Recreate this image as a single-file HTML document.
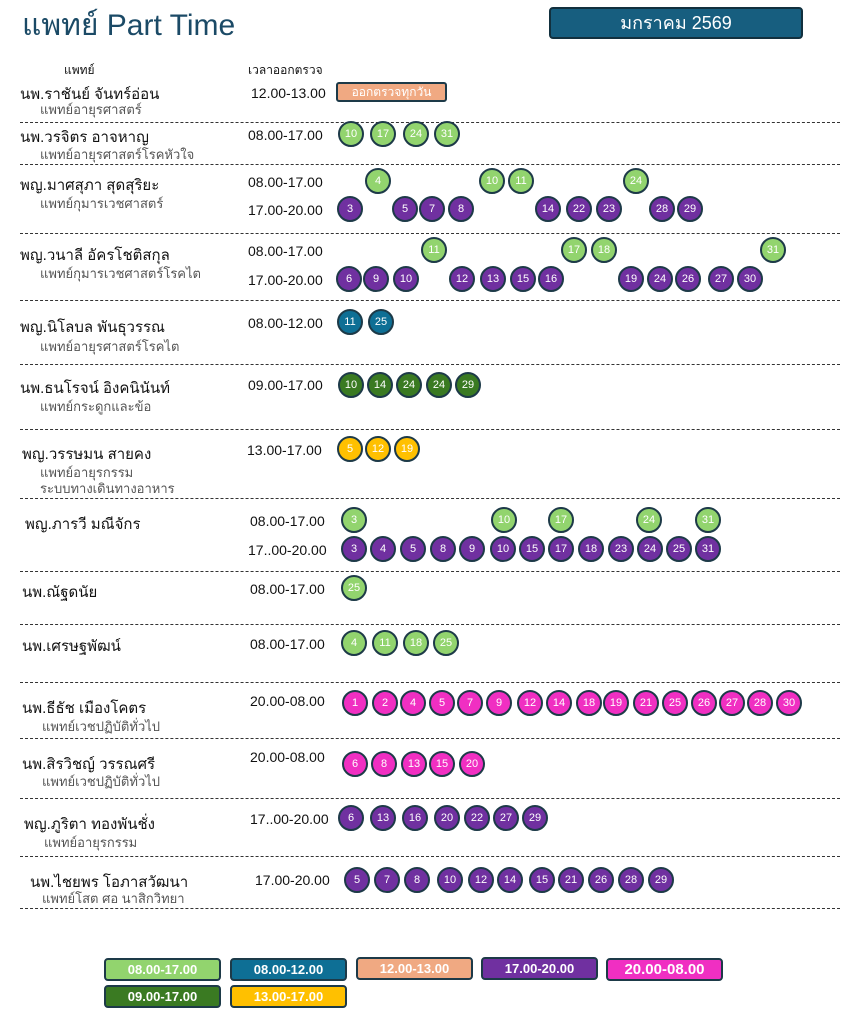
<!DOCTYPE html>
<html><head><meta charset="utf-8"><style>
*{margin:0;padding:0;box-sizing:border-box}
body{width:850px;height:1024px;background:#fff;position:relative;overflow:hidden;font-family:"Liberation Sans","DejaVu Sans",sans-serif;color:#111}
.a{position:absolute;white-space:nowrap}
.t{font-size:30px;color:#1b4a66;left:22px;top:2px}
.m{left:549px;top:7px;width:254px;height:32px;background:#175e7f;border:2px solid #12303e;border-radius:4px;color:#fff;font-size:18px;text-align:center;line-height:28px}
.h{font-size:12px}
.n{font-size:15px;color:#111}
.s{font-size:13px;color:#555}
.tm{font-size:14px;color:#111}
.d{position:absolute;left:20px;width:820px;border-top:1.5px dashed #333;height:0}
.c{position:absolute;width:26px;height:26px;border-radius:50%;border:2px solid #1d3a48;color:#fff;font-size:11px;text-align:center;line-height:22px}
.g{background:#92d46e}.b{background:#0e6f95}.p{background:#7030a0}.k{background:#f02fc2}.dg{background:#3a7a22}.y{background:#ffc000}
.l{position:absolute;width:117px;height:23px;border:2px solid #1d3a48;border-radius:4px;color:#fff;font-size:13px;font-weight:bold;text-align:center;line-height:19px}
</style></head><body>
<div class="a t">แพทย์ Part Time</div>
<div class="a m">มกราคม 2569</div>
<div class="a h" style="left:64px;top:61px">แพทย์</div>
<div class="a h" style="left:248px;top:61px">เวลาออกตรวจ</div>

<div class="a n" style="left:20px;top:82px">นพ.ราชันย์ จันทร์อ่อน</div>
<div class="a s" style="left:40px;top:99px">แพทย์อายุรศาสตร์</div>
<div class="a tm" style="left:251px;top:85px">12.00-13.00</div>
<div class="a" style="left:336px;top:82px;width:111px;height:20px;background:#f0a982;border:2px solid #1d3a48;border-radius:3px;color:#fff;font-size:12px;text-align:center;line-height:16px">ออกตรวจทุกวัน</div>
<div class="d" style="top:122px"></div>

<div class="a n" style="left:20px;top:125px">นพ.วรจิตร อาจหาญ</div>
<div class="a s" style="left:40px;top:144px">แพทย์อายุรศาสตร์โรคหัวใจ</div>
<div class="a tm" style="left:248px;top:127px">08.00-17.00</div>
<div class="d" style="top:164px"></div>

<div class="a n" style="left:20px;top:173px">พญ.มาศสุภา สุดสุริยะ</div>
<div class="a s" style="left:40px;top:193px">แพทย์กุมารเวชศาสตร์</div>
<div class="a tm" style="left:248px;top:174px">08.00-17.00</div>
<div class="a tm" style="left:248px;top:202px">17.00-20.00</div>
<div class="d" style="top:233px"></div>

<div class="a n" style="left:20px;top:243px">พญ.วนาลี อัครโชติสกุล</div>
<div class="a s" style="left:40px;top:263px">แพทย์กุมารเวชศาสตร์โรคไต</div>
<div class="a tm" style="left:248px;top:243px">08.00-17.00</div>
<div class="a tm" style="left:248px;top:272px">17.00-20.00</div>
<div class="d" style="top:300px"></div>

<div class="a n" style="left:20px;top:315px">พญ.นิโลบล พันธุวรรณ</div>
<div class="a s" style="left:40px;top:336px">แพทย์อายุรศาสตร์โรคไต</div>
<div class="a tm" style="left:248px;top:315px">08.00-12.00</div>
<div class="d" style="top:364px"></div>

<div class="a n" style="left:20px;top:376px">นพ.ธนโรจน์ อิงคนินันท์</div>
<div class="a s" style="left:40px;top:396px">แพทย์กระดูกและข้อ</div>
<div class="a tm" style="left:248px;top:377px">09.00-17.00</div>
<div class="d" style="top:429px"></div>

<div class="a n" style="left:22px;top:442px">พญ.วรรษมน สายคง</div>
<div class="a s" style="left:40px;top:462px">แพทย์อายุรกรรม</div>
<div class="a s" style="left:40px;top:478px">ระบบทางเดินทางอาหาร</div>
<div class="a tm" style="left:247px;top:442px">13.00-17.00</div>
<div class="d" style="top:498px"></div>

<div class="a n" style="left:25px;top:512px">พญ.ภารวี มณีจักร</div>
<div class="a tm" style="left:250px;top:513px">08.00-17.00</div>
<div class="a tm" style="left:248px;top:542px">17..00-20.00</div>
<div class="d" style="top:571px"></div>

<div class="a n" style="left:22px;top:580px">นพ.ณัฐดนัย</div>
<div class="a tm" style="left:250px;top:581px">08.00-17.00</div>
<div class="d" style="top:624px"></div>

<div class="a n" style="left:22px;top:634px">นพ.เศรษฐพัฒน์</div>
<div class="a tm" style="left:250px;top:636px">08.00-17.00</div>
<div class="d" style="top:682px"></div>

<div class="a n" style="left:22px;top:696px">นพ.ธีธัช เมืองโคตร</div>
<div class="a s" style="left:42px;top:716px">แพทย์เวชปฏิบัติทั่วไป</div>
<div class="a tm" style="left:250px;top:693px">20.00-08.00</div>
<div class="d" style="top:738px"></div>

<div class="a n" style="left:22px;top:752px">นพ.สิรวิชญ์ วรรณศรี</div>
<div class="a s" style="left:42px;top:771px">แพทย์เวชปฏิบัติทั่วไป</div>
<div class="a tm" style="left:250px;top:749px">20.00-08.00</div>
<div class="d" style="top:798px"></div>

<div class="a n" style="left:24px;top:812px">พญ.ภูริตา ทองพันชั่ง</div>
<div class="a s" style="left:44px;top:832px">แพทย์อายุรกรรม</div>
<div class="a tm" style="left:250px;top:811px">17..00-20.00</div>
<div class="d" style="top:856px"></div>

<div class="a n" style="left:30px;top:870px">นพ.ไชยพร โอภาสวัฒนา</div>
<div class="a s" style="left:42px;top:888px">แพทย์โสต ศอ นาสิกวิทยา</div>
<div class="a tm" style="left:255px;top:872px">17.00-20.00</div>
<div class="d" style="top:908px"></div>

<div class="c g" style="left:338px;top:121px">10</div><div class="c g" style="left:370px;top:121px">17</div><div class="c g" style="left:403px;top:121px">24</div><div class="c g" style="left:434px;top:121px">31</div>
<div class="c g" style="left:365px;top:168px">4</div><div class="c g" style="left:479px;top:168px">10</div><div class="c g" style="left:508px;top:168px">11</div><div class="c g" style="left:623px;top:168px">24</div>
<div class="c p" style="left:337px;top:196px">3</div><div class="c p" style="left:392px;top:196px">5</div><div class="c p" style="left:419px;top:196px">7</div><div class="c p" style="left:448px;top:196px">8</div><div class="c p" style="left:535px;top:196px">14</div><div class="c p" style="left:566px;top:196px">22</div><div class="c p" style="left:596px;top:196px">23</div><div class="c p" style="left:649px;top:196px">28</div><div class="c p" style="left:677px;top:196px">29</div>
<div class="c g" style="left:421px;top:237px">11</div><div class="c g" style="left:561px;top:237px">17</div><div class="c g" style="left:591px;top:237px">18</div><div class="c g" style="left:760px;top:237px">31</div>
<div class="c p" style="left:336px;top:266px">6</div><div class="c p" style="left:363px;top:266px">9</div><div class="c p" style="left:393px;top:266px">10</div><div class="c p" style="left:449px;top:266px">12</div><div class="c p" style="left:480px;top:266px">13</div><div class="c p" style="left:510px;top:266px">15</div><div class="c p" style="left:538px;top:266px">16</div><div class="c p" style="left:618px;top:266px">19</div><div class="c p" style="left:647px;top:266px">24</div><div class="c p" style="left:675px;top:266px">26</div><div class="c p" style="left:708px;top:266px">27</div><div class="c p" style="left:737px;top:266px">30</div>
<div class="c b" style="left:337px;top:309px">11</div><div class="c b" style="left:368px;top:309px">25</div>
<div class="c dg" style="left:338px;top:372px">10</div><div class="c dg" style="left:367px;top:372px">14</div><div class="c dg" style="left:396px;top:372px">24</div><div class="c dg" style="left:426px;top:372px">24</div><div class="c dg" style="left:455px;top:372px">29</div>
<div class="c y" style="left:337px;top:436px">5</div><div class="c y" style="left:365px;top:436px">12</div><div class="c y" style="left:394px;top:436px">19</div>
<div class="c g" style="left:341px;top:507px">3</div><div class="c g" style="left:491px;top:507px">10</div><div class="c g" style="left:548px;top:507px">17</div><div class="c g" style="left:636px;top:507px">24</div><div class="c g" style="left:695px;top:507px">31</div>
<div class="c p" style="left:341px;top:536px">3</div><div class="c p" style="left:370px;top:536px">4</div><div class="c p" style="left:400px;top:536px">5</div><div class="c p" style="left:430px;top:536px">8</div><div class="c p" style="left:459px;top:536px">9</div><div class="c p" style="left:490px;top:536px">10</div><div class="c p" style="left:519px;top:536px">15</div><div class="c p" style="left:548px;top:536px">17</div><div class="c p" style="left:578px;top:536px">18</div><div class="c p" style="left:608px;top:536px">23</div><div class="c p" style="left:637px;top:536px">24</div><div class="c p" style="left:666px;top:536px">25</div><div class="c p" style="left:695px;top:536px">31</div>
<div class="c g" style="left:341px;top:575px">25</div>
<div class="c g" style="left:341px;top:630px">4</div><div class="c g" style="left:372px;top:630px">11</div><div class="c g" style="left:403px;top:630px">18</div><div class="c g" style="left:433px;top:630px">25</div>
<div class="c k" style="left:342px;top:690px">1</div><div class="c k" style="left:372px;top:690px">2</div><div class="c k" style="left:400px;top:690px">4</div><div class="c k" style="left:429px;top:690px">5</div><div class="c k" style="left:457px;top:690px">7</div><div class="c k" style="left:486px;top:690px">9</div><div class="c k" style="left:517px;top:690px">12</div><div class="c k" style="left:546px;top:690px">14</div><div class="c k" style="left:576px;top:690px">18</div><div class="c k" style="left:603px;top:690px">19</div><div class="c k" style="left:633px;top:690px">21</div><div class="c k" style="left:662px;top:690px">25</div><div class="c k" style="left:691px;top:690px">26</div><div class="c k" style="left:719px;top:690px">27</div><div class="c k" style="left:747px;top:690px">28</div><div class="c k" style="left:776px;top:690px">30</div>
<div class="c k" style="left:342px;top:751px">6</div><div class="c k" style="left:371px;top:751px">8</div><div class="c k" style="left:401px;top:751px">13</div><div class="c k" style="left:429px;top:751px">15</div><div class="c k" style="left:459px;top:751px">20</div>
<div class="c p" style="left:338px;top:805px">6</div><div class="c p" style="left:370px;top:805px">13</div><div class="c p" style="left:402px;top:805px">16</div><div class="c p" style="left:434px;top:805px">20</div><div class="c p" style="left:464px;top:805px">22</div><div class="c p" style="left:493px;top:805px">27</div><div class="c p" style="left:522px;top:805px">29</div>
<div class="c p" style="left:344px;top:867px">5</div><div class="c p" style="left:374px;top:867px">7</div><div class="c p" style="left:404px;top:867px">8</div><div class="c p" style="left:437px;top:867px">10</div><div class="c p" style="left:468px;top:867px">12</div><div class="c p" style="left:497px;top:867px">14</div><div class="c p" style="left:529px;top:867px">15</div><div class="c p" style="left:558px;top:867px">21</div><div class="c p" style="left:588px;top:867px">26</div><div class="c p" style="left:618px;top:867px">28</div><div class="c p" style="left:648px;top:867px">29</div>

<div class="l g" style="left:104px;top:958px">08.00-17.00</div>
<div class="l b" style="left:230px;top:958px">08.00-12.00</div>
<div class="l" style="left:104px;top:985px;background:#3a7a22">09.00-17.00</div>
<div class="l" style="left:230px;top:985px;background:#ffc000">13.00-17.00</div>
<div class="l" style="left:356px;top:957px;background:#f0a982">12.00-13.00</div>
<div class="l p" style="left:481px;top:957px">17.00-20.00</div>
<div class="l k" style="left:606px;top:958px;font-size:15px">20.00-08.00</div>
</body></html>
